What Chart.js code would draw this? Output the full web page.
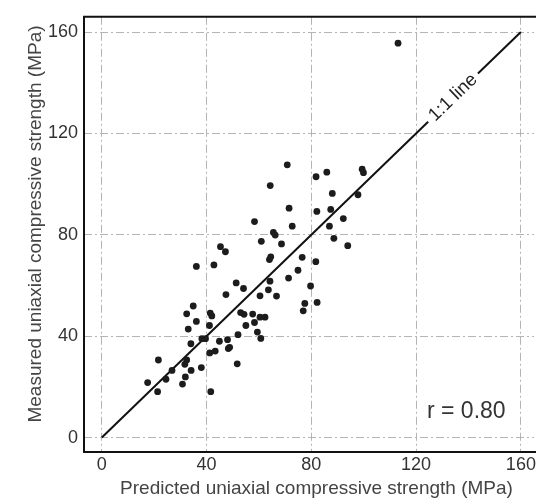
<!DOCTYPE html>
<html>
<head>
<meta charset="utf-8">
<script src="https://cdn.jsdelivr.net/npm/chart.js@4/dist/chart.umd.min.js"></script>
<style>
  html, body { margin: 0; padding: 0; background: #fff; }
  #wrap { width: 538px; height: 500px; position: relative; }
</style>
</head>
<body>
<div id="wrap"><canvas id="c" width="538" height="500"></canvas></div>
<script>
// Predicted UCS (x) and measured UCS (y), MPa
const predicted = [
  113.1, 70.8, 81.8, 85.9, 99.4, 99.9, 64.3, 88.0, 97.8, 71.5,
  82.1, 87.4, 92.2, 58.3, 72.7, 86.9, 65.5, 66.2, 88.6, 60.9,
  68.6, 93.9, 45.3, 47.2, 64.5, 64.0, 76.5, 81.7,
  36.1, 42.8, 74.9, 71.3, 64.2, 63.6, 51.3, 54.1, 60.4, 66.7,
  79.7, 82.2, 77.5, 76.9, 47.4, 34.9, 32.4, 41.4, 42.0, 36.1,
  41.1, 33.0, 53.0, 54.3, 57.6, 60.4, 62.3, 58.3, 55.0, 59.4,
  60.7, 52.0,
  38.2, 39.6, 34.0, 44.9, 48.0, 48.3, 48.8, 41.2, 43.3, 51.7,
  21.6, 32.4, 31.7, 38.0, 34.1, 26.8, 31.9, 24.5, 17.5, 30.8,
  21.3, 41.6
];
const measured = [
  155.6, 107.6, 102.9, 104.7, 105.9, 104.5, 99.4, 96.3, 95.8, 90.5,
  89.2, 90.0, 86.4, 85.2, 83.4, 83.4, 80.9, 79.9, 78.6, 77.4,
  76.4, 75.7, 75.3, 73.3, 71.3, 70.2, 71.1, 69.4,
  67.5, 68.1, 66.0, 62.9, 61.7, 58.3, 61.0, 58.8, 55.9, 55.8,
  59.8, 53.3, 52.9, 50.0, 56.4, 51.9, 48.8, 49.1, 48.0, 45.8,
  44.2, 42.8, 49.3, 48.6, 48.7, 47.5, 47.5, 45.4, 44.2, 41.6,
  39.1, 40.6,
  39.0, 39.0, 37.0, 38.0, 38.6, 35.1, 35.6, 33.4, 34.1, 29.1,
  30.6, 30.6, 28.9, 27.6, 26.5, 26.5, 23.9, 23.0, 21.7, 21.1,
  18.1, 18.1
];
// 1:1 line (broken where its label sits)
const lineLowX = [0, 124.6];
const lineHighX = [143.6, 160];
const xTicks = [0, 40, 80, 120, 160];
const yTicks = [0, 40, 80, 120, 160];
const xTitle = 'Predicted uniaxial compressive strength (MPa)';
const yTitle = 'Measured uniaxial compressive strength (MPa)';
const lineLabel = '1:1 line';
const rLabel = 'r = 0.80';

const FONT = '"Liberation Sans", Arial, Helvetica, sans-serif';

const points = predicted.map((x, i) => ({ x: x, y: measured[i] }));
const seg1 = lineLowX.map(v => ({ x: v, y: v }));
const seg2 = lineHighX.map(v => ({ x: v, y: v }));

const decor = {
  id: 'decor',
  afterDraw(chart) {
    const ctx = chart.ctx;
    const a = chart.chartArea;
    const xs = chart.scales.x, ys = chart.scales.y;
    ctx.save();
    // frame: left, top, bottom
    ctx.strokeStyle = '#111';
    ctx.lineWidth = 2;
    ctx.beginPath();
    ctx.moveTo(a.right + 2, a.top);
    ctx.lineTo(a.left, a.top);
    ctx.lineTo(a.left, a.bottom);
    ctx.lineTo(a.right + 2, a.bottom);
    ctx.stroke();

    // 1:1 label along the line
    const p0x = xs.getPixelForValue(0), p0y = ys.getPixelForValue(0);
    const p1x = xs.getPixelForValue(160), p1y = ys.getPixelForValue(160);
    const ang = Math.atan2(p1y - p0y, p1x - p0x);
    const mid = (lineLowX[1] + lineHighX[0]) / 2;
    ctx.save();
    ctx.translate(xs.getPixelForValue(mid), ys.getPixelForValue(mid));
    ctx.rotate(ang);
    ctx.fillStyle = '#222';
    ctx.font = '18.5px ' + FONT;
    ctx.textAlign = 'center';
    ctx.textBaseline = 'middle';
    ctx.fillText(lineLabel, 0, 0);
    ctx.restore();

    // r label
    ctx.fillStyle = '#333';
    ctx.font = '23px ' + FONT;
    ctx.textAlign = 'left';
    ctx.textBaseline = 'alphabetic';
    ctx.fillText(rLabel, 427, 418);

    // axis titles
    ctx.fillStyle = '#444';
    ctx.font = '19px ' + FONT;
    ctx.textAlign = 'center';
    ctx.textBaseline = 'middle';
    ctx.fillText(xTitle, 316.5, 488.5);
    ctx.save();
    ctx.translate(36, 224);
    ctx.rotate(-Math.PI / 2);
    ctx.fillText(yTitle, 0, 0);
    ctx.restore();
    ctx.restore();
  }
};

const gridOpts = { color: '#b4b4b4', lineWidth: 1, drawTicks: false };

new Chart(document.getElementById('c'), {
  type: 'scatter',
  data: {
    datasets: [
      { data: points, showLine: false, pointRadius: 3.4, pointHoverRadius: 3.4,
        backgroundColor: '#1c1c1c', borderWidth: 0 },
      { type: 'line', data: seg1, showLine: true, pointRadius: 0,
        borderColor: '#111', borderWidth: 2, fill: false },
      { type: 'line', data: seg2, showLine: true, pointRadius: 0,
        borderColor: '#111', borderWidth: 2, fill: false }
    ]
  },
  options: {
    responsive: false,
    animation: false,
    layout: { padding: { top: 12, right: 0, left: 0, bottom: 0 } },
    plugins: { legend: { display: false }, tooltip: { enabled: false }, title: { display: false } },
    scales: {
      x: {
        type: 'linear', min: -6.8, max: 165,
        afterBuildTicks: s => { s.ticks = xTicks.map(v => ({ value: v })); },
        afterFit: s => { s.height = 48; },
        grid: gridOpts,
        border: { display: false, dash: [8, 3, 2, 3] },
        ticks: { color: '#333', font: { size: 18, family: FONT }, padding: 2, maxRotation: 0 }
      },
      y: {
        type: 'linear', min: -5.7, max: 166,
        afterBuildTicks: s => { s.ticks = yTicks.map(v => ({ value: v })); },
        afterFit: s => { s.width = 84; },
        grid: gridOpts,
        border: { display: false, dash: [8, 3, 2, 3] },
        ticks: { color: '#333', font: { size: 18, family: FONT }, padding: 6 }
      }
    }
  },
  plugins: [decor]
});
</script>
</body>
</html>
